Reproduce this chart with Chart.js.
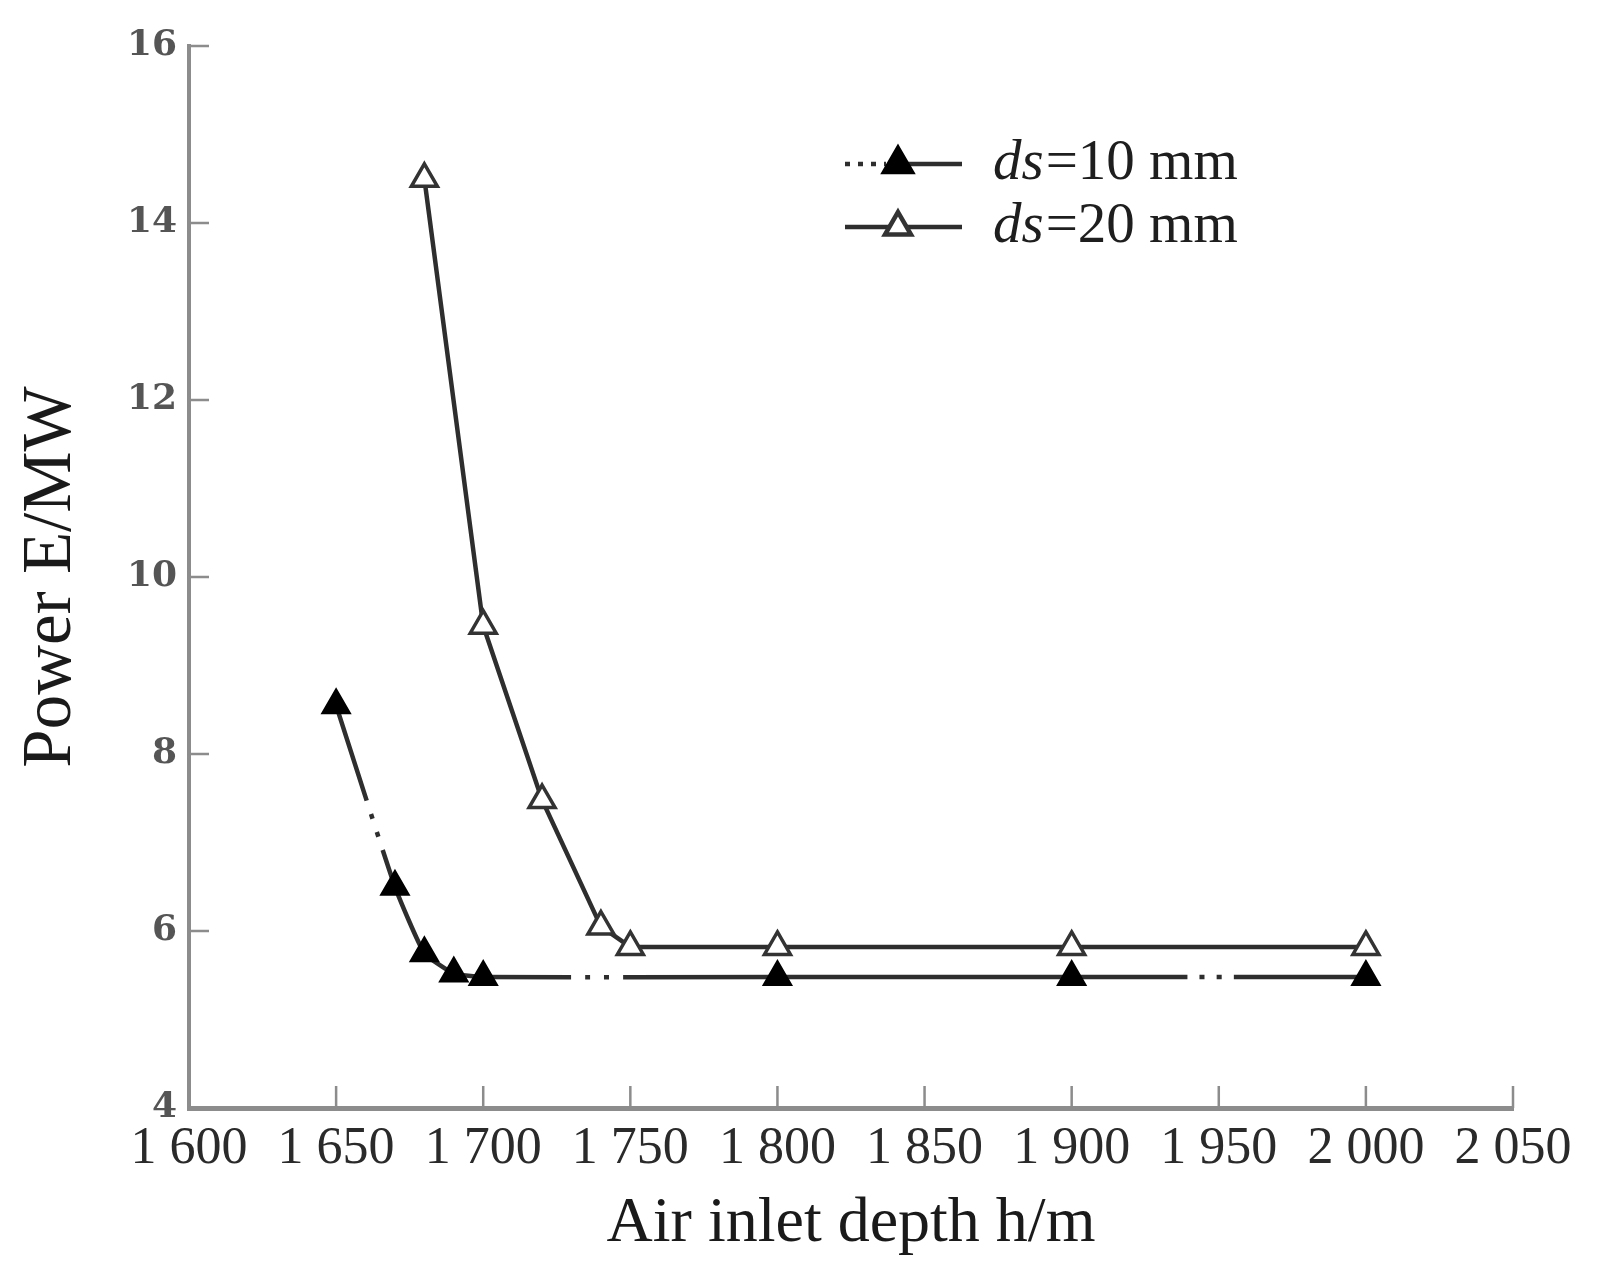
<!DOCTYPE html>
<html>
<head>
<meta charset="utf-8">
<script src="https://cdn.jsdelivr.net/npm/chart.js@4.4.1/dist/chart.umd.min.js"></script>
<style>
  html, body { margin: 0; padding: 0; background: #ffffff; }
  #wrap { width: 1597px; height: 1273px; position: relative; }
</style>
</head>
<body>
<div id="wrap"><canvas id="c" width="1597" height="1273"></canvas></div>
<script>
// ---- data ----
const depthA = [1650, 1670, 1680, 1690, 1700, 1800, 1900, 2000];
const powerA = [8.55, 6.5, 5.75, 5.52, 5.48, 5.48, 5.48, 5.48];
const depthB = [1680, 1700, 1720, 1740, 1750, 1800, 1900, 2000];
const powerB = [14.5, 9.45, 7.48, 6.05, 5.82, 5.82, 5.82, 5.82];
const seriesLabels = ['ds=10 mm', 'ds=20 mm'];
const xTickValues = [1600, 1650, 1700, 1750, 1800, 1850, 1900, 1950, 2000, 2050];
const yTickValues = [4, 6, 8, 10, 12, 14, 16];
const xTitle = 'Air inlet depth h/m';
const yTitle = 'Power E/MW';

// ---- styling ----
const LINE = '#2e2e2e';
const AXIS = '#8c8c8c';
// dash patterns per segment of the ds=10 mm curve (dash-dot-dot breaks)
const dashA = [
  [100, 14, 5, 14, 5, 14, 600],
  [], [], [],
  [88, 14, 5, 14, 5, 14, 600],
  [],
  [116, 12, 5, 12, 5, 12, 600]
];

const fmtX = v => String(v).replace(/\B(?=(\d{3})+(?!\d))/g, ' ');

const toPts = (xs, ys) => xs.map((x, i) => ({ x: x, y: ys[i] }));

const innerTicks = {
  id: 'innerTicks',
  beforeDatasetsDraw(chart) {
    const { ctx, chartArea, scales } = chart;
    ctx.save();
    ctx.strokeStyle = AXIS;
    ctx.lineWidth = 2.5;
    ctx.beginPath();
    scales.y.ticks.forEach(t => {
      const py = scales.y.getPixelForValue(t.value);
      ctx.moveTo(chartArea.left, py);
      ctx.lineTo(chartArea.left + 20, py);
    });
    scales.x.ticks.forEach(t => {
      const px = scales.x.getPixelForValue(t.value);
      ctx.moveTo(px, chartArea.bottom);
      ctx.lineTo(px, chartArea.bottom - 22);
    });
    ctx.stroke();
    ctx.restore();
  }
};

const customLegend = {
  id: 'customLegend',
  afterDraw(chart) {
    const { ctx } = chart;
    const x0 = 845, x1 = 962, xm = 898, tx = 993;
    const ys = [164, 227];
    chart.data.datasets.forEach((ds, i) => {
      const y = ys[i];
      ctx.save();
      ctx.strokeStyle = ds.borderColor;
      ctx.lineWidth = ds.borderWidth;
      if (i === 0) {
        ctx.setLineDash([5, 8]);
        ctx.beginPath(); ctx.moveTo(x0, y); ctx.lineTo(xm - 12, y); ctx.stroke();
        ctx.setLineDash([]);
        ctx.beginPath(); ctx.moveTo(xm, y); ctx.lineTo(x1, y); ctx.stroke();
      } else {
        ctx.beginPath(); ctx.moveTo(x0, y); ctx.lineTo(x1, y); ctx.stroke();
      }
      ctx.fillStyle = ds.pointBackgroundColor;
      ctx.strokeStyle = ds.pointBorderColor;
      Chart.helpers.drawPoint(ctx, {
        pointStyle: 'triangle', radius: ds.pointRadius,
        borderWidth: ds.pointBorderWidth, rotation: 0
      }, xm, y);
      // text: italic "ds" then the rest
      const label = ds.label;
      const head = label.slice(0, 2), tail = label.slice(2);
      ctx.fillStyle = '#1e1e1e';
      ctx.textBaseline = 'middle';
      ctx.textAlign = 'left';
      ctx.font = 'italic 57px "Liberation Serif"';
      ctx.fillText(head, tx, y);
      const w = ctx.measureText(head).width;
      ctx.font = '57px "Liberation Serif"';
      ctx.fillText(tail, tx + w + 2, y);
      ctx.restore();
    });
  }
};

new Chart(document.getElementById('c'), {
  type: 'line',
  data: {
    datasets: [
      {
        label: seriesLabels[0],
        data: toPts(depthA, powerA),
        borderColor: LINE,
        borderWidth: 4.5,
        tension: 0.15,
        pointStyle: 'triangle',
        pointRadius: 16,
        pointBorderWidth: 2,
        pointBackgroundColor: '#000000',
        pointBorderColor: '#000000',
        segment: {
          borderDash: c => dashA[c.p0DataIndex] || []
        }
      },
      {
        label: seriesLabels[1],
        data: toPts(depthB, powerB),
        borderColor: LINE,
        borderWidth: 4.5,
        tension: 0,
        pointStyle: 'triangle',
        pointRadius: 15,
        pointBorderWidth: 3.5,
        pointBackgroundColor: '#ffffff',
        pointBorderColor: '#333333'
      }
    ]
  },
  options: {
    responsive: false,
    devicePixelRatio: 1,
    animation: false,
    layout: { padding: { left: 0, right: 84, top: 46, bottom: 0 } },
    plugins: { legend: { display: false }, tooltip: { enabled: false } },
    scales: {
      x: {
        type: 'linear',
        min: 1600, max: 2050,
        afterBuildTicks: s => { s.ticks = xTickValues.map(v => ({ value: v })); },
        afterFit: s => { s.height = 165; },
        grid: { display: true, drawOnChartArea: false, drawTicks: false },
        border: { display: true, color: AXIS, width: 5 },
        ticks: {
          callback: v => fmtX(v),
          padding: 10,
          maxRotation: 0,
          autoSkip: false,
          color: '#2a2a2a',
          font: { family: '"Liberation Serif"', size: 52 }
        },
        title: {
          display: true,
          text: xTitle,
          color: '#1a1a1a',
          font: { family: '"Liberation Serif"', size: 64 },
          padding: { top: 0, bottom: 10 }
        }
      },
      y: {
        type: 'linear',
        min: 4, max: 16,
        afterBuildTicks: s => { s.ticks = yTickValues.map(v => ({ value: v })); },
        afterFit: s => { s.width = 189; },
        grid: { display: true, drawOnChartArea: false, drawTicks: false },
        border: { display: true, color: AXIS, width: 4 },
        ticks: {
          padding: 12,
          color: '#555555',
          font: { family: '"DejaVu Serif"', size: 36, weight: 'bold' }
        },
        title: {
          display: true,
          text: yTitle,
          color: '#1a1a1a',
          font: { family: '"Liberation Serif"', size: 69 },
          padding: { top: 10, bottom: 0 }
        }
      }
    }
  },
  plugins: [innerTicks, customLegend]
});
</script>
</body>
</html>
